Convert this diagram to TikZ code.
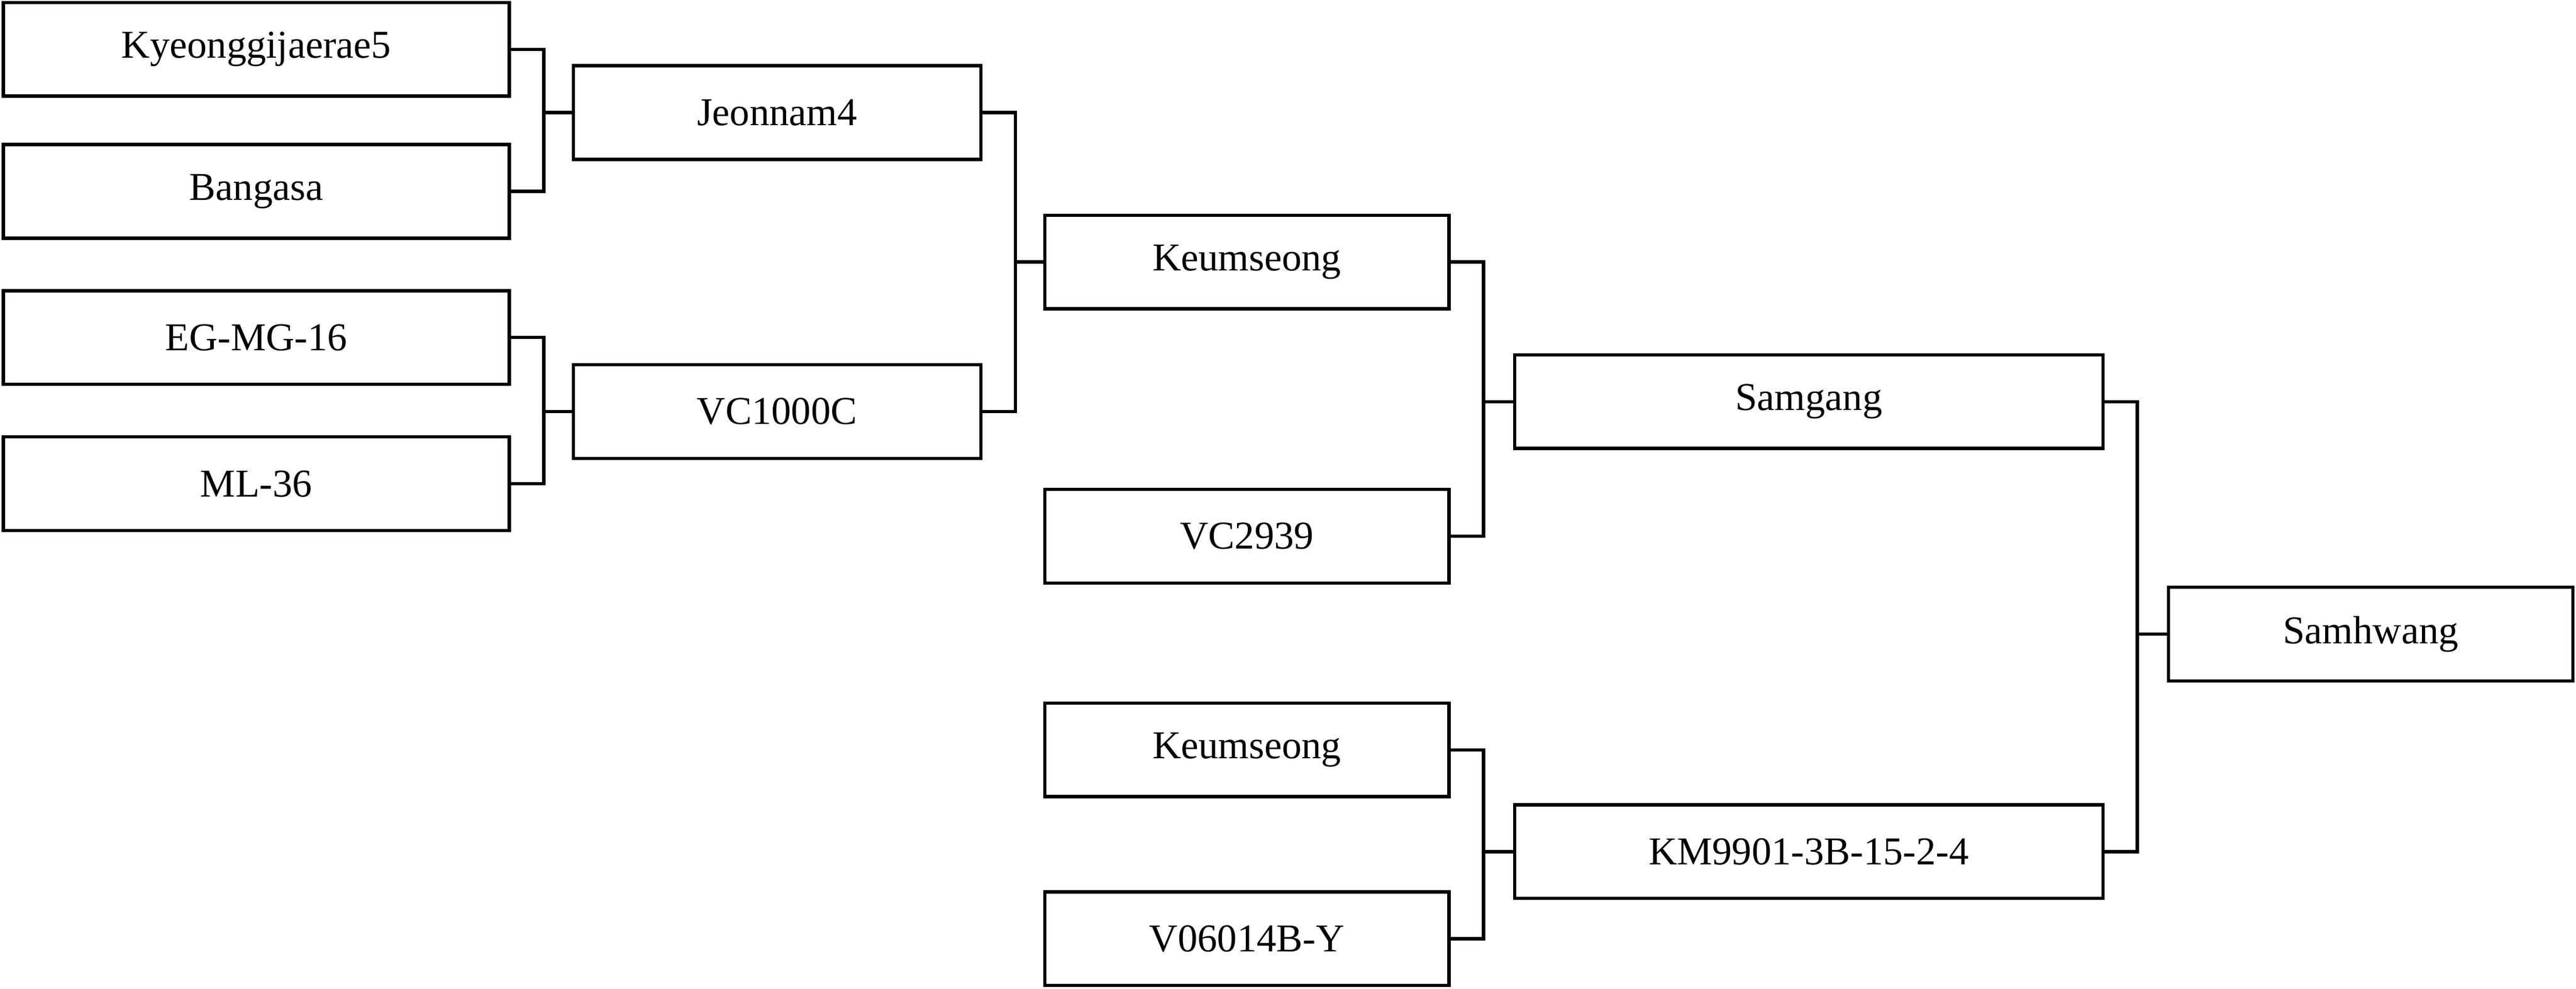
\documentclass[tikz,border=0pt]{standalone}
\usepackage{fontspec}
\setmainfont{Liberation Serif}
\begin{document}
\begin{tikzpicture}[x=0.03cm,y=-0.03cm,line width=1.7pt,
  box/.style={draw,rectangle,minimum height=1.71cm,inner sep=0pt,font=\fontsize{20.5}{24}\selectfont},
  c1/.style={box,minimum width=9.24cm},
  c3/.style={box,minimum width=7.38cm},
  c4/.style={box,minimum width=10.74cm}]
\useasboundingbox (0,0) rectangle (1568,602);
% first column
\node[c1] (kye) at (156,30) {Kyeonggijaerae5};
\node[c1] (ban) at (156,116.5) {Bangasa};
\node[c1] (egm) at (156,205.5) {EG-MG-16};
\node[c1] (ml) at (156,294.5) {ML-36};
% second column
\node[box,minimum width=7.44cm] (jeo) at (473,68.5) {Jeonnam4};
\node[box,minimum width=7.44cm] (vc1) at (473,250.5) {VC1000C};
% third column
\node[c3] (keu) at (759,159.5) {Keumseong};
\node[c3] (vc2) at (759,326.5) {VC2939};
\node[c3] (keb) at (759,456.5) {Keumseong};
\node[c3] (v06) at (759,571.5) {V06014B-Y};
% fourth and fifth column
\node[c4] (sam) at (1101,244.5) {Samgang};
\node[c4] (km) at (1101,518.5) {KM9901-3B-15-2-4};
\node[c3] (shw) at (1443,386) {Samhwang};
% connectors
\foreach \a/\p in {kye/jeo,ban/jeo,egm/vc1,ml/vc1,jeo/keu,vc1/keu,keu/sam,vc2/sam,keb/km,v06/km,sam/shw,km/shw}
  \draw (\a.east) -- ++(20,0) |- (\p.west);
\end{tikzpicture}
\end{document}
